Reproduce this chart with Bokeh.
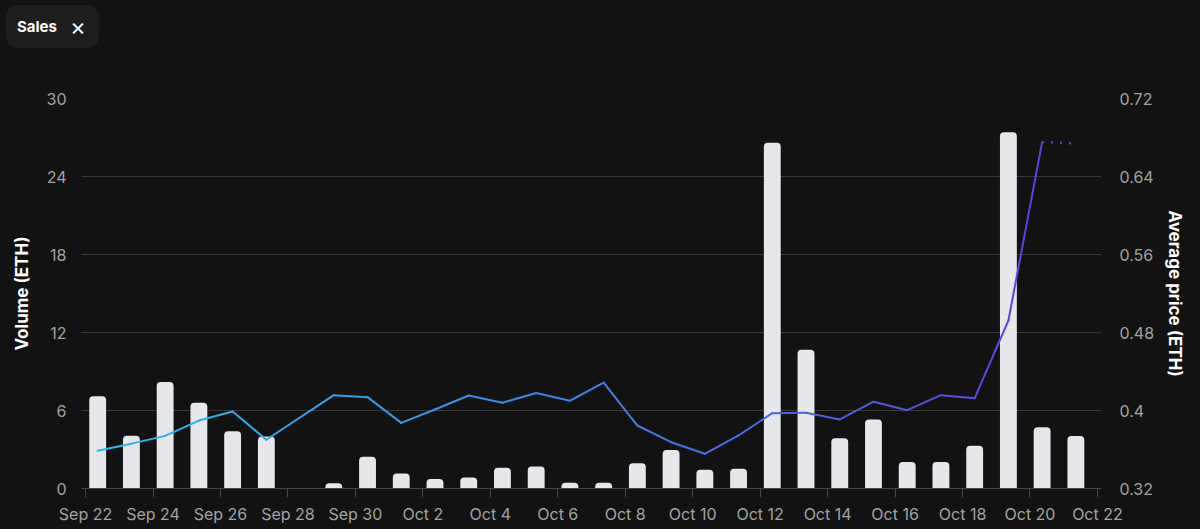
import pandas as pd
from bokeh.plotting import figure
from bokeh.models import Range1d, LinearAxis, FixedTicker, Div
from bokeh.layouts import column
from bokeh.embed import file_html
from bokeh.resources import INLINE

# ---------------- data ----------------
bar_dates = ["2023-09-22", "2023-09-23", "2023-09-24", "2023-09-25", "2023-09-26",
             "2023-09-27", "2023-09-28", "2023-09-29", "2023-09-30", "2023-10-01",
             "2023-10-02", "2023-10-03", "2023-10-04", "2023-10-05", "2023-10-06",
             "2023-10-07", "2023-10-08", "2023-10-09", "2023-10-10", "2023-10-11",
             "2023-10-12", "2023-10-13", "2023-10-14", "2023-10-15", "2023-10-16",
             "2023-10-17", "2023-10-18", "2023-10-19", "2023-10-20", "2023-10-21"]
volume = [7.1, 4.05, 8.2, 6.6, 4.4, 4.0, 0.0, 0.41, 2.44, 1.15,
          0.74, 0.85, 1.59, 1.69, 0.44, 0.44, 1.95, 2.97, 1.44, 1.51,
          26.6, 10.67, 3.87, 5.3, 2.03, 2.03, 3.28, 27.4, 4.72, 4.03]

price_dates = ["2023-09-22", "2023-09-23", "2023-09-24", "2023-09-25", "2023-09-26",
               "2023-09-27", "2023-09-29", "2023-09-30", "2023-10-01", "2023-10-02",
               "2023-10-03", "2023-10-04", "2023-10-05", "2023-10-06", "2023-10-07",
               "2023-10-08", "2023-10-09", "2023-10-10", "2023-10-11", "2023-10-12",
               "2023-10-13", "2023-10-14", "2023-10-15", "2023-10-16", "2023-10-17",
               "2023-10-18", "2023-10-19", "2023-10-20"]
avg_price = [0.3587, 0.366, 0.374, 0.3897, 0.399, 0.370, 0.4157, 0.4137, 0.3873, 0.401,
             0.4154, 0.408, 0.418, 0.410, 0.4287, 0.3846, 0.3675, 0.3556, 0.3744, 0.3973,
             0.3976, 0.3908, 0.409, 0.4003, 0.4157, 0.4126, 0.4923, 0.6752]

proj_dates = ["2023-10-20", "2023-10-21"]
proj_price = [0.6752, 0.674]

x_tick_dates = ["2023-09-22", "2023-09-24", "2023-09-26", "2023-09-28", "2023-09-30",
                "2023-10-02", "2023-10-04", "2023-10-06", "2023-10-08", "2023-10-10",
                "2023-10-12", "2023-10-14", "2023-10-16", "2023-10-18", "2023-10-20",
                "2023-10-22"]
x_tick_labels = ["Sep 22", "Sep 24", "Sep 26", "Sep 28", "Sep 30", "Oct 2", "Oct 4",
                 "Oct 6", "Oct 8", "Oct 10", "Oct 12", "Oct 14", "Oct 16", "Oct 18",
                 "Oct 20", "Oct 22"]
vol_ticks = [0, 6, 12, 18, 24, 30]
price_ticks = [0.32, 0.4, 0.48, 0.56, 0.64, 0.72]

# ---------------- styling ----------------
BG = "#121212"
GRID = "#383838"
AXIS = "#474747"
TICK_TXT = "#a3a3a3"
BAR = "#e5e7eb"
FONT = "Inter"
DAY = 86400000.0
OFFSET = 0.36 * DAY


def ms(d):
    return pd.Timestamp(d).value / 1e6


tick_ms = [ms(d) for d in x_tick_dates]
x_start = tick_ms[0] - 0.12 * DAY
x_end = tick_ms[-1] + 0.12 * DAY

p = figure(width=1200, height=479, output_backend="svg", toolbar_location=None,
           x_axis_type="datetime",
           x_range=Range1d(x_start, x_end), y_range=Range1d(0, 30),
           min_border_left=81, min_border_right=99, min_border_top=48,
           min_border_bottom=41,
           background_fill_color=BG, border_fill_color=BG, outline_line_color=None)
p.extra_y_ranges = {"price": Range1d(0.32, 0.72)}

# left axis
ly = p.yaxis[0]
ly.ticker = FixedTicker(ticks=vol_ticks, minor_ticks=[])
ly.axis_line_color = None
ly.major_tick_line_color = None
ly.minor_tick_line_color = None
ly.major_tick_out = 0
ly.major_tick_in = 0
ly.major_label_standoff = 15
ly.major_label_text_color = TICK_TXT
ly.major_label_text_font = FONT
ly.major_label_text_font_size = "16px"
ly.axis_label = "Volume (ETH)"
ly.axis_label_text_color = "#ffffff"
ly.axis_label_text_font = FONT
ly.axis_label_text_font_style = "bold"
ly.axis_label_text_font_size = "17px"
ly.axis_label_standoff = 12

# right axis
ry = LinearAxis(y_range_name="price")
ry.ticker = FixedTicker(ticks=price_ticks, minor_ticks=[])
ry.major_label_overrides = {v: str(v) for v in price_ticks}
ry.axis_line_color = None
ry.major_tick_line_color = None
ry.minor_tick_line_color = None
ry.major_tick_out = 0
ry.major_tick_in = 0
ry.major_label_standoff = 18
ry.major_label_text_color = TICK_TXT
ry.major_label_text_font = FONT
ry.major_label_text_font_size = "16px"
ry.axis_label = "Average price (ETH)"
ry.axis_label_text_color = "#ffffff"
ry.axis_label_text_font = FONT
ry.axis_label_text_font_style = "bold"
ry.axis_label_text_font_size = "17px"
ry.axis_label_standoff = 8
p.add_layout(ry, "right")

# x axis
xa = p.xaxis[0]
xa.ticker = FixedTicker(ticks=tick_ms, minor_ticks=[])
xa.major_label_overrides = dict(zip(tick_ms, x_tick_labels))
xa.axis_line_color = AXIS
xa.major_tick_line_color = AXIS
xa.major_tick_out = 9
xa.major_tick_in = 0
xa.minor_tick_line_color = None
xa.major_label_standoff = 6
xa.major_label_text_color = TICK_TXT
xa.major_label_text_font = FONT
xa.major_label_text_font_size = "16px"

p.xgrid.visible = False
p.ygrid.ticker = FixedTicker(ticks=vol_ticks, minor_ticks=[])
p.ygrid.grid_line_color = GRID
p.ygrid.grid_line_width = 1

# bars
bx = [ms(d) + OFFSET for d, v in zip(bar_dates, volume) if v > 0]
bt = [v for v in volume if v > 0]
p.vbar(x=bx, top=bt, width=0.5 * DAY, fill_color=BAR, line_color=None,
       border_radius=(4, 4, 0, 0))

# gradient line (cyan -> indigo along x)
c0 = (40, 188, 232)
c1 = (92, 62, 228)
px = [ms(d) + OFFSET for d in price_dates]
x_lo, x_hi = px[0], ms(proj_dates[-1]) + OFFSET


def grad(t):
    return "#%02x%02x%02x" % tuple(int(round(a + (b - a) * t)) for a, b in zip(c0, c1))


cols = [grad(((px[i] + px[i + 1]) / 2 - x_lo) / (x_hi - x_lo)) for i in range(len(px) - 1)]
p.segment(x0=px[:-1], y0=avg_price[:-1], x1=px[1:], y1=avg_price[1:],
          line_color=cols, line_width=2, line_cap="round", y_range_name="price")

# projected dotted segment
pjx = [ms(d) + OFFSET for d in proj_dates]
p.line(x=pjx, y=proj_price, line_color=grad(1.0), line_width=2.5,
       line_dash="2 7", y_range_name="price")

# "Sales" chip
chip_html = (
    '<div style="display:flex;align-items:center;box-sizing:border-box;'
    'width:93px;height:43px;margin:0 0 0 1px;padding:0 0 0 11px;'
    'background:#1e1e1e;border-radius:12px;color:#ffffff;'
    'font-family:Inter;font-weight:700;font-size:15px;">Sales'
    '<span style="margin-left:13px;font-weight:400;font-size:24px;'
    'line-height:1;">\u00d7</span></div>'
)
chip = Div(text=chip_html, width=1200, height=40,
           styles={"background-color": BG})

layout = column(chip, p, spacing=0, styles={"background-color": BG})

html = file_html(layout, INLINE)
html = html.replace("<body>", '<body style="background-color:#121212;">')
open("out.html", "w").write(html)
